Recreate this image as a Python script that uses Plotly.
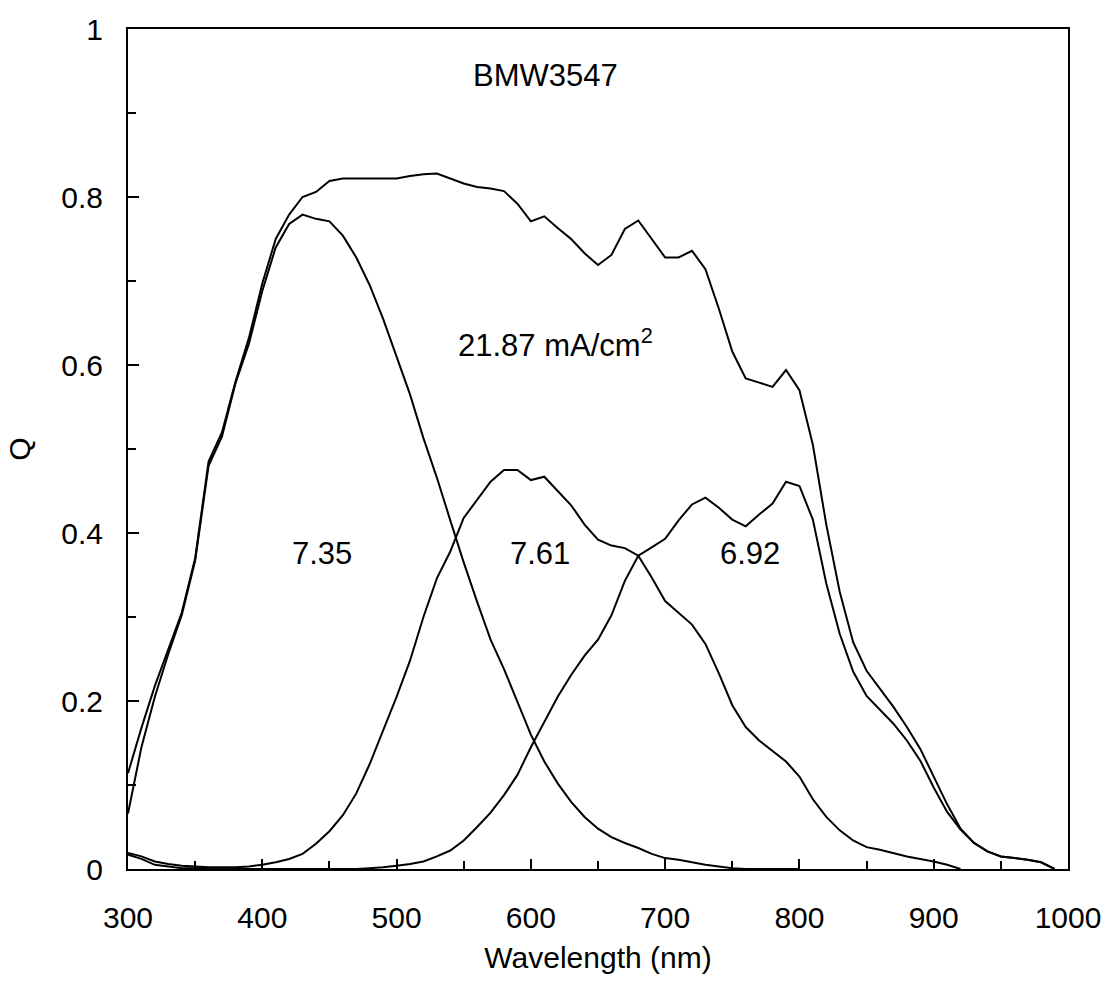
import plotly.graph_objects as go

# Quantum efficiency of the triple-junction cell BMW3547
wavelength = [300, 310, 320, 330, 340, 350, 360, 370, 380, 390,
              400, 410, 420, 430, 440, 450, 460, 470, 480, 490,
              500, 510, 520, 530, 540, 550, 560, 570, 580, 590,
              600, 610, 620, 630, 640, 650, 660, 670, 680, 690,
              700, 710, 720, 730, 740, 750, 760, 770, 780, 790,
              800, 810, 820, 830, 840, 850, 860, 870, 880, 890,
              900, 910, 920, 930, 940, 950, 960, 970, 980, 990]

total = [0.114, 0.168, 0.218, 0.262, 0.305, 0.370, 0.485, 0.520, 0.580, 0.632,
         0.697, 0.750, 0.779, 0.800, 0.806, 0.819, 0.822, 0.822, 0.822, 0.822,
         0.822, 0.825, 0.827, 0.828, 0.822, 0.816, 0.812, 0.810, 0.807, 0.792,
         0.771, 0.777, 0.763, 0.750, 0.733, 0.719, 0.731, 0.762, 0.772, 0.750,
         0.728, 0.728, 0.736, 0.714, 0.667, 0.616, 0.584, 0.579, 0.574, 0.594,
         0.570, 0.505, 0.410, 0.330, 0.270, 0.236, 0.214, 0.193, 0.169, 0.143,
         0.110, 0.077, 0.048, 0.031, 0.021, 0.015, 0.013, 0.011, 0.008, 0.000]

top_cell = [0.066, 0.145, 0.205, 0.256, 0.302, 0.367, 0.480, 0.515, 0.578, 0.625,
            0.688, 0.740, 0.768, 0.779, 0.774, 0.771, 0.754, 0.728, 0.695, 0.655,
            0.610, 0.565, 0.513, 0.466, 0.415, 0.365, 0.318, 0.273, 0.238, 0.198,
            0.160, 0.128, 0.102, 0.080, 0.062, 0.048, 0.038, 0.031, 0.025, 0.018,
            0.013, 0.011, 0.008, 0.005, 0.003, 0.001, 0.000, 0.000, 0.000, 0.000,
            0.000]

middle_cell = [0.019, 0.015, 0.009, 0.006, 0.004, 0.003, 0.002, 0.002, 0.002, 0.003,
               0.005, 0.008, 0.012, 0.018, 0.030, 0.045, 0.064, 0.090, 0.125, 0.165,
               0.205, 0.248, 0.300, 0.346, 0.378, 0.418, 0.440, 0.461, 0.475, 0.475,
               0.463, 0.467, 0.450, 0.433, 0.410, 0.392, 0.385, 0.382, 0.373, 0.347,
               0.319, 0.305, 0.291, 0.268, 0.233, 0.195, 0.169, 0.153, 0.140, 0.128,
               0.110, 0.083, 0.062, 0.046, 0.034, 0.026, 0.023, 0.019, 0.015, 0.012,
               0.009, 0.005, 0.000]

bottom_cell = [0.017, 0.012, 0.005, 0.003, 0.001, 0.001, 0.001, 0.000, 0.000, 0.000,
               0.000, 0.000, 0.000, 0.000, 0.000, 0.000, 0.000, 0.000, 0.001, 0.002,
               0.004, 0.006, 0.009, 0.015, 0.022, 0.034, 0.050, 0.067, 0.088, 0.112,
               0.145, 0.175, 0.205, 0.231, 0.254, 0.273, 0.302, 0.343, 0.373, 0.383,
               0.393, 0.415, 0.434, 0.442, 0.430, 0.416, 0.408, 0.422, 0.435, 0.461,
               0.456, 0.416, 0.340, 0.280, 0.235, 0.206, 0.190, 0.173, 0.153, 0.129,
               0.097, 0.068, 0.047, 0.031, 0.021, 0.015, 0.013, 0.011, 0.008, 0.000]

# Integrated current densities (mA/cm^2) written on the chart
labels = [
    (610.8, 0.945, "BMW3547"),
    (618.0, 0.626, "21.87 mA/cm<sup>2</sup>"),
    (444.8, 0.376, "7.35"),
    (607.1, 0.376, "7.61"),
    (763.3, 0.376, "6.92"),
]

FONT = "Liberation Sans, Arial, sans-serif"

fig = go.Figure()
for ys in (total, top_cell, middle_cell, bottom_cell):
    fig.add_trace(go.Scatter(
        x=wavelength[:len(ys)], y=ys, mode="lines",
        line=dict(color="black", width=2), showlegend=False,
    ))

for x, y, text in labels:
    fig.add_annotation(x=x, y=y, text=text, showarrow=False,
                       xanchor="center", yanchor="middle",
                       font=dict(family=FONT, size=31, color="black"))

axis_common = dict(
    showgrid=False, zeroline=False, showline=True, mirror=True,
    linecolor="black", linewidth=2, ticks="inside", tickcolor="black",
    tickwidth=1.5, tickfont=dict(family=FONT, size=30, color="black"),
)

fig.update_xaxes(
    range=[300, 1000], dtick=100, tick0=300, ticklen=10,
    minor=dict(dtick=50, ticks="inside", ticklen=8, tickcolor="black", tickwidth=1.5),
    ticklabelstandoff=21,
    title=dict(text="Wavelength (nm)", font=dict(family=FONT, size=30, color="black"),
               standoff=14),
    **axis_common,
)
fig.update_yaxes(
    range=[0, 1], dtick=0.2, tick0=0, ticklen=11,
    minor=dict(dtick=0.1, ticks="inside", ticklen=8, tickcolor="black", tickwidth=1.5),
    tickformat="~g", ticklabelstandoff=17,
    title=dict(text="Q", font=dict(family=FONT, size=30, color="black"), standoff=22),
    **axis_common,
)

fig.update_layout(
    width=1113, height=984,
    margin=dict(l=128, r=41, t=26, b=115),
    paper_bgcolor="white", plot_bgcolor="white",
)

fig.write_html("out.html")
